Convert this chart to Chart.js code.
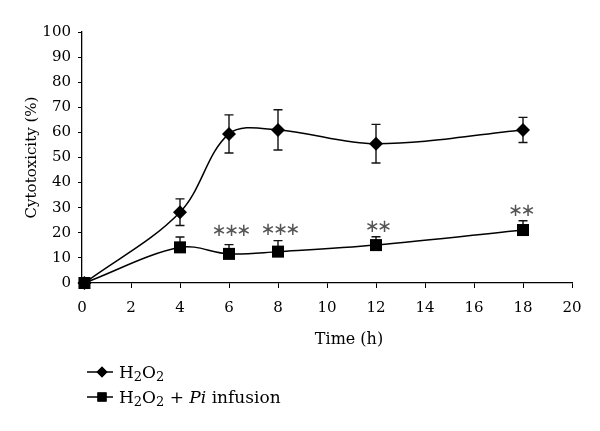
<!DOCTYPE html>
<html>
<head>
<meta charset="utf-8">
<script src="https://cdn.jsdelivr.net/npm/chart.js@4/dist/chart.umd.min.js"></script>
<style>
  html, body { margin: 0; padding: 0; background: #fff; }
  canvas { display: block; }
</style>
</head>
<body>
<canvas id="Grafico" width="600" height="431"></canvas>
<script>
// Datos
const Tiempos     = [0.1, 4, 6, 8, 12, 18];
const ValoresH2O2 = [0, 28.2, 59.4, 61, 55.5, 61];
const ErrorH2O2   = [0, 5.3, 7.6, 8, 7.7, 5];
const ValoresPi   = [0, 14.2, 11.6, 12.5, 15.1, 21.1];
const ErrorPi     = [0, 4.1, 3.7, 4.4, 3.3, 3.7];

// Marcas de significancia
const AstX      = [6.1, 8.1, 12.1, 17.95];
const AstY      = [20.4, 20.8, 22.3, 28.7];
const AstCuenta = [3, 3, 2, 2];

const Fuente = 'DejaVu Serif';

const PluginBarras = {
  id: 'BarrasError',
  beforeDatasetsDraw(Chart) {
    const Ctx = Chart.ctx;
    const Y = Chart.scales.y;
    Chart.data.datasets.forEach((Ds, I) => {
      const Meta = Chart.getDatasetMeta(I);
      Ctx.save();
      Ctx.strokeStyle = '#111';
      Ctx.lineWidth = 1.4;
      Meta.data.forEach((P, J) => {
        const V = Ds.data[J].y;
        const Arriba = Ds.ErrArriba[J];
        const Abajo  = Ds.ErrAbajo ? Ds.ErrAbajo[J] : 0;
        if (!Arriba && !Abajo) return;
        const YA = Y.getPixelForValue(V + Arriba);
        const YB = Y.getPixelForValue(V - Abajo);
        Ctx.beginPath();
        Ctx.moveTo(P.x, YA); Ctx.lineTo(P.x, YB);
        Ctx.moveTo(P.x - 4.5, YA); Ctx.lineTo(P.x + 4.5, YA);
        if (Abajo) { Ctx.moveTo(P.x - 4.5, YB); Ctx.lineTo(P.x + 4.5, YB); }
        Ctx.stroke();
      });
      Ctx.restore();
    });
  }
};

function TextoQuimico(Ctx, X, Y, Partes) {
  // Partes: [texto, 'n' normal | 's' subindice | 'i' italica]
  Partes.forEach(([T, Tipo]) => {
    if (Tipo === 's') {
      Ctx.font = `13px "${Fuente}"`;
      Ctx.fillText(T, X, Y + 3);
    } else if (Tipo === 'i') {
      Ctx.font = `italic 17px "${Fuente}"`;
      Ctx.fillText(T, X, Y);
    } else {
      Ctx.font = `17px "${Fuente}"`;
      Ctx.fillText(T, X, Y);
    }
    X += Ctx.measureText(T).width;
  });
}

const PluginExtras = {
  id: 'Extras',
  afterDraw(Chart) {
    const Ctx = Chart.ctx;
    const X = Chart.scales.x;
    const Y = Chart.scales.y;
    Ctx.save();

    // Asteriscos
    Ctx.fillStyle = '#555';
    Ctx.font = '18px "DejaVu Sans"';
    Ctx.textAlign = 'center';
    Ctx.textBaseline = 'middle';
    AstX.forEach((Ax, I) => {
      const Px = X.getPixelForValue(Ax);
      const Py = Y.getPixelForValue(AstY[I]);
      const N = AstCuenta[I];
      for (let K = 0; K < N; K++) {
        Ctx.fillText('\u2217', Px + (K - (N - 1) / 2) * 12.3, Py);
      }
    });

    // Titulo eje X
    Ctx.fillStyle = '#000';
    Ctx.font = `16px "${Fuente}"`;
    Ctx.textBaseline = 'middle';
    Ctx.fillText('Time (h)', 349, 340);

    // Leyenda
    Ctx.textAlign = 'left';
    Ctx.textBaseline = 'alphabetic';
    const Filas = [
      { Y: 372, Estilo: 'rectRot', Radio: 5.5, Partes: [['H','n'],['2','s'],['O','n'],['2','s']] },
      { Y: 397, Estilo: 'rect', Radio: 6.5, Partes: [['H','n'],['2','s'],['O','n'],['2','s'],[' + ','n'],['Pi','i'],[' infusion','n']] }
    ];
    Filas.forEach(F => {
      Ctx.strokeStyle = '#000';
      Ctx.lineWidth = 1.5;
      Ctx.beginPath();
      Ctx.moveTo(87, F.Y); Ctx.lineTo(113, F.Y);
      Ctx.stroke();
      Ctx.fillStyle = '#000';
      window.Chart.helpers.drawPoint(Ctx, { pointStyle: F.Estilo, radius: F.Radio, borderWidth: 0 }, 102, F.Y);
      Ctx.fill();
      TextoQuimico(Ctx, 119, F.Y + 6, F.Partes);
    });

    Ctx.restore();
  }
};

const Punto = (Valores) => Tiempos.map((T, I) => ({ x: T, y: Valores[I] }));

new Chart(document.getElementById('Grafico').getContext('2d'), {
  type: 'line',
  data: {
    datasets: [
      {
        label: 'H2O2',
        data: Punto(ValoresH2O2),
        ErrArriba: ErrorH2O2,
        ErrAbajo: ErrorH2O2,
        borderColor: '#000',
        borderWidth: 1.5,
        pointStyle: 'rectRot',
        pointRadius: 7,
        pointBackgroundColor: '#000',
        pointBorderWidth: 0,
        tension: 0.35,
        clip: false
      },
      {
        label: 'H2O2 + Pi infusion',
        data: Punto(ValoresPi),
        ErrArriba: ErrorPi,
        ErrAbajo: null,
        borderColor: '#000',
        borderWidth: 1.5,
        pointStyle: 'rect',
        pointRadius: 8.5,
        pointBackgroundColor: '#000',
        pointBorderWidth: 0,
        tension: 0.35,
        clip: false
      }
    ]
  },
  options: {
    responsive: false,
    animation: false,
    devicePixelRatio: 1,
    layout: { padding: { top: 32, right: 28, left: 0, bottom: 0 } },
    plugins: { legend: { display: false }, tooltip: { enabled: false } },
    scales: {
      x: {
        type: 'linear',
        min: 0, max: 20,
        ticks: { stepSize: 2, color: '#000', font: { family: Fuente, size: 15 }, padding: 11, maxRotation: 0 },
        grid: { drawOnChartArea: false, tickLength: 5, color: '#000' },
        border: { color: '#000', width: 1.3 },
        afterFit(S) { S.height = 148; }
      },
      y: {
        min: 0, max: 100,
        ticks: { stepSize: 10, color: '#000', font: { family: Fuente, size: 15 }, padding: 7 },
        grid: { drawOnChartArea: false, tickLength: 4, color: '#000' },
        border: { color: '#000', width: 1.3 },
        title: { display: true, text: 'Cytotoxicity (%)', color: '#000', font: { family: Fuente, size: 15 }, padding: { top: 23, bottom: 0 } },
        afterFit(S) { S.width = 82; }
      }
    }
  },
  plugins: [PluginBarras, PluginExtras]
});
</script>
</body>
</html>
